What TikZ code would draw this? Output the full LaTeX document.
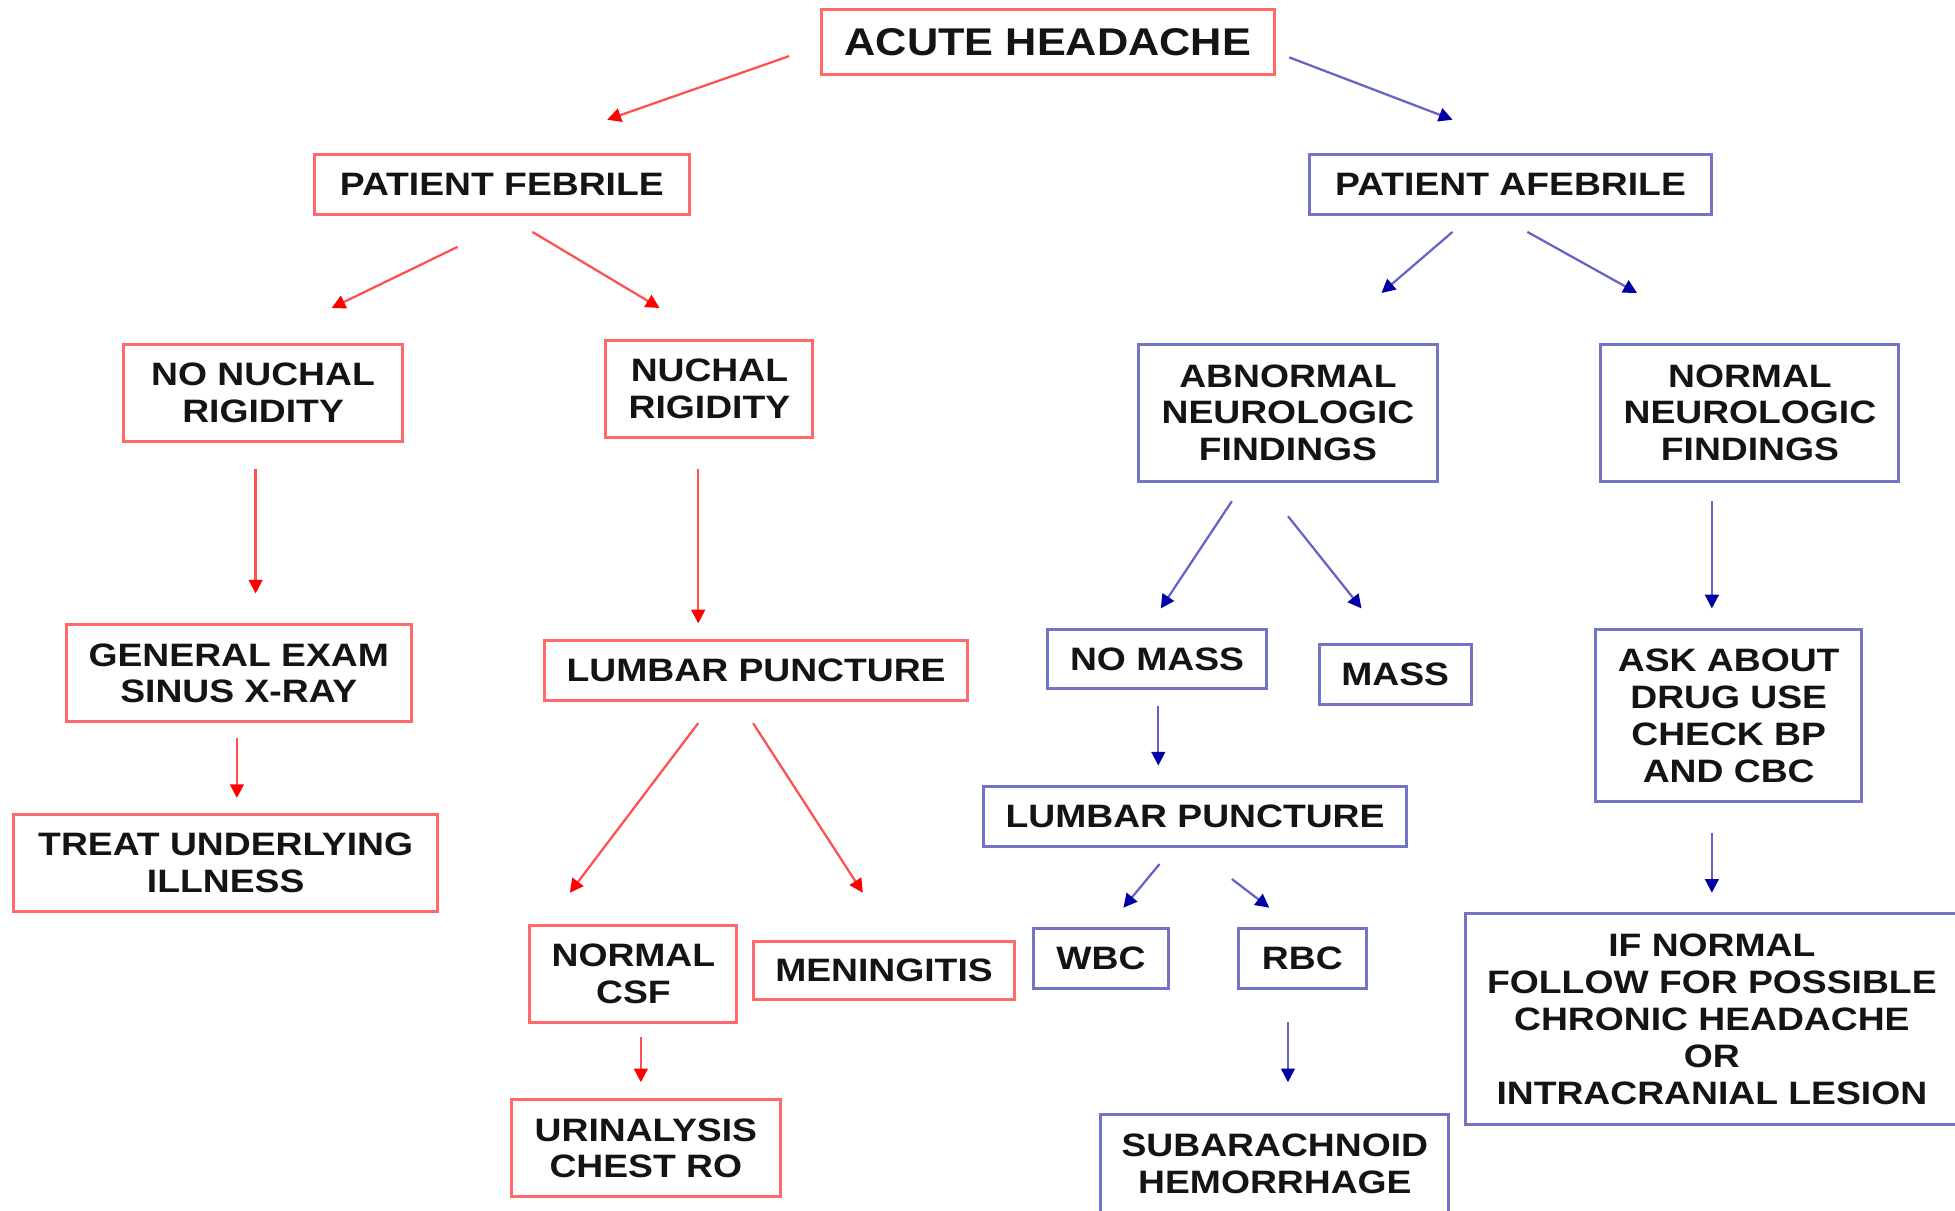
\documentclass[tikz,border=0pt]{standalone}
\usepackage{fontspec}
\newfontfamily\lab[FakeStretch=1.15]{Liberation Sans}
\newfontfamily\labhead[FakeStretch=1.12]{Liberation Sans}
\usetikzlibrary{arrows.meta}
\definecolor{boxred}{RGB}{255,105,105}
\definecolor{boxblue}{RGB}{115,115,200}
\definecolor{linered}{RGB}{255,80,80}
\definecolor{lineblue}{RGB}{100,100,200}
\definecolor{tipred}{RGB}{255,0,0}
\definecolor{tipblue}{RGB}{0,0,165}
\definecolor{txt}{RGB}{20,20,20}
\tikzset{
  basebox/.style={rectangle, draw, line width=2.4pt, inner sep=0pt, align=center,
    text=txt, font=\lab\bfseries\fontsize{26}{29.5}\selectfont},
  redbox/.style={basebox, draw=boxred},
  bluebox/.style={basebox, draw=boxblue},
  redarrow/.style={draw=linered, line width=1.8pt, -{Triangle[length=11pt,width=11pt,color=tipred]}},
  bluearrow/.style={draw=lineblue, line width=1.8pt, -{Triangle[length=11pt,width=11pt,color=tipblue]}},
}
\begin{document}
\begin{tikzpicture}[x=1pt,y=-1pt]
\useasboundingbox (0,0) rectangle (1568,971);
\clip (0,0) rectangle (1568,971);
\fill[white] (0,0) rectangle (1568,971);

% nodes
\node[redbox, minimum width=363pt, minimum height=52pt, font=\labhead\bfseries\fontsize{31}{34}\selectfont] (acute) at (840.5,34) {ACUTE HEADACHE};
\node[redbox, minimum width=301pt, minimum height=48pt] (febrile) at (402.5,148) {PATIENT FEBRILE};
\node[bluebox, minimum width=323pt, minimum height=48pt] (afebrile) at (1211.5,148) {PATIENT AFEBRILE};
\node[redbox, minimum width=224pt, minimum height=78pt] (nonuchal) at (211,315) {NO NUCHAL\\RIGIDITY};
\node[redbox, minimum width=166pt, minimum height=78pt] (nuchal) at (569,312) {NUCHAL\\RIGIDITY};
\node[bluebox, minimum width=240pt, minimum height=110pt] (abnormal) at (1033,331) {ABNORMAL\\NEUROLOGIC\\FINDINGS};
\node[bluebox, minimum width=239pt, minimum height=110pt] (normal) at (1403.5,331) {NORMAL\\NEUROLOGIC\\FINDINGS};
\node[redbox, minimum width=277pt, minimum height=78pt] (general) at (191.5,540) {GENERAL EXAM\\SINUS X-RAY};
\node[redbox, minimum width=339pt, minimum height=48pt] (lpred) at (606.5,538) {LUMBAR PUNCTURE};
\node[bluebox, minimum width=176pt, minimum height=47pt] (nomass) at (928,528.5) {NO MASS};
\node[bluebox, minimum width=122pt, minimum height=48pt] (mass) at (1119,541) {MASS};
\node[bluebox, minimum width=213pt, minimum height=138pt] (ask) at (1386.5,574) {ASK ABOUT\\DRUG USE\\CHECK BP\\AND CBC};
\node[redbox, minimum width=340pt, minimum height=78pt] (treat) at (181,692) {TREAT UNDERLYING\\ILLNESS};
\node[bluebox, minimum width=339pt, minimum height=48pt] (lpblue) at (958.5,655) {LUMBAR PUNCTURE};
\node[redbox, minimum width=166pt, minimum height=78pt] (csf) at (508,781) {NORMAL\\CSF};
\node[redbox, minimum width=210pt, minimum height=47pt] (mening) at (709,778.5) {MENINGITIS};
\node[bluebox, minimum width=108pt, minimum height=48pt] (wbc) at (883,769) {WBC};
\node[bluebox, minimum width=103pt, minimum height=48pt] (rbc) at (1044.5,769) {RBC};
\node[bluebox, minimum width=396pt, minimum height=169pt] (ifnormal) at (1373,817.5) {IF NORMAL\\FOLLOW FOR POSSIBLE\\CHRONIC HEADACHE\\OR\\INTRACRANIAL LESION};
\node[redbox, minimum width=216pt, minimum height=78pt] (urin) at (518,921) {URINALYSIS\\CHEST RO};
\node[bluebox, minimum width=279pt, minimum height=79pt] (subarach) at (1022.5,933.5) {SUBARACHNOID\\HEMORRHAGE};

% arrow end points
\coordinate (a1s) at (633,45);   \coordinate (a1e) at (487,96);
\coordinate (a2s) at (1034,46);  \coordinate (a2e) at (1165,96);
\coordinate (a3s) at (367,198);  \coordinate (a3e) at (266,247);
\coordinate (a4s) at (427,186);  \coordinate (a4e) at (529,247);
\coordinate (a5s) at (1165,186); \coordinate (a5e) at (1108,235);
\coordinate (a6s) at (1225,186); \coordinate (a6e) at (1313,235);
\coordinate (a7s) at (205,376);  \coordinate (a7e) at (205,476);
\coordinate (a8s) at (560,376);  \coordinate (a8e) at (560,500);
\coordinate (a9s) at (988,402);  \coordinate (a9e) at (931,488);
\coordinate (a10s) at (1033,414); \coordinate (a10e) at (1092,488);
\coordinate (a11s) at (1373,402); \coordinate (a11e) at (1373,488);
\coordinate (a12s) at (190,592);  \coordinate (a12e) at (190,640);
\coordinate (a13s) at (560,580);  \coordinate (a13e) at (457,716);
\coordinate (a14s) at (604,580);  \coordinate (a14e) at (692,716);
\coordinate (a15s) at (929,566);  \coordinate (a15e) at (929,614);
\coordinate (a16s) at (1373,668); \coordinate (a16e) at (1373,716);
\coordinate (a17s) at (930,693);  \coordinate (a17e) at (901,728);
\coordinate (a18s) at (988,705);  \coordinate (a18e) at (1018,728);
\coordinate (a19s) at (514,832);  \coordinate (a19e) at (514,868);
\coordinate (a20s) at (1033,820); \coordinate (a20e) at (1033,868);

\draw[redarrow] (a1s) -- (a1e);
\draw[bluearrow] (a2s) -- (a2e);
\draw[redarrow] (a3s) -- (a3e);
\draw[redarrow] (a4s) -- (a4e);
\draw[bluearrow] (a5s) -- (a5e);
\draw[bluearrow] (a6s) -- (a6e);
\draw[redarrow] (a7s) -- (a7e);
\draw[redarrow] (a8s) -- (a8e);
\draw[bluearrow] (a9s) -- (a9e);
\draw[bluearrow] (a10s) -- (a10e);
\draw[bluearrow] (a11s) -- (a11e);
\draw[redarrow] (a12s) -- (a12e);
\draw[redarrow] (a13s) -- (a13e);
\draw[redarrow] (a14s) -- (a14e);
\draw[bluearrow] (a15s) -- (a15e);
\draw[bluearrow] (a16s) -- (a16e);
\draw[bluearrow] (a17s) -- (a17e);
\draw[bluearrow] (a18s) -- (a18e);
\draw[redarrow] (a19s) -- (a19e);
\draw[bluearrow] (a20s) -- (a20e);
\end{tikzpicture}
\end{document}
